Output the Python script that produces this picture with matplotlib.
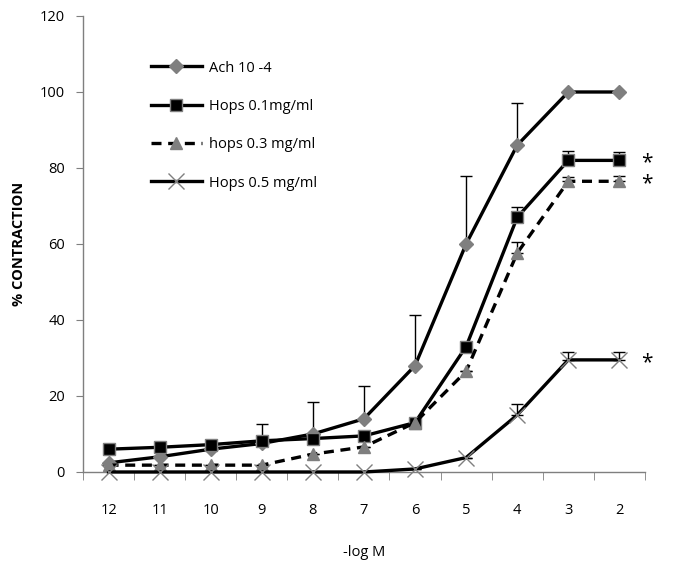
import matplotlib
matplotlib.use("Agg")
import matplotlib.pyplot as plt
import numpy as np

plt.rcParams['font.family'] = ['Open Sans', 'DejaVu Sans']

# -log M categories
doses = ['12', '11', '10', '9', '8', '7', '6', '5', '4', '3', '2']

ach = [2.4, 4, 6, 7.5, 10, 14, 28, 60, 86, 100, 100]
ach_err = [0, 0, 0, 5, 8.4, 8.6, 13.3, 18, 11, 0, 0]

hops01 = [6, 6.5, 7.2, 8.2, 8.8, 9.5, 13, 33, 67, 82, 82]
hops01_err = [0, 0, 0, 0, 0, 0, 0, 0, 2.7, 2.5, 2.2]

hops03 = [1.8, 1.8, 1.8, 1.8, 4.7, 6.6, 13, 26.5, 57.6, 76.5, 76.5]
hops03_err = [0, 0, 0, 0, 0, 0, 0, 0, 3, 1.2, 1.5]

hops05 = [0, 0, 0, 0, 0, 0, 0.8, 3.8, 15, 29.5, 29.5]
hops05_err = [0, 0, 0, 0, 0, 0, 0, 0, 3, 2.2, 2.2]

fig = plt.figure(figsize=(6.76, 5.69), dpi=100)
ax = fig.add_axes([0.1228, 0.1705, 0.8312, 0.8014])
x = np.arange(len(doses))

gray = '#7f7f7f'

def series(y, err, label, marker, ms, mfc, mec, ls, lw=2.4):
    ax.errorbar(x, y, yerr=[np.zeros(len(err)), err], fmt='none',
                ecolor='black', elinewidth=1.0, capsize=4, capthick=1.0, zorder=2)
    ax.plot(x, y, color='black', lw=lw, ls=ls, marker=marker, ms=ms,
            mfc=mfc, mec=mec, mew=1.0, label=label, zorder=3, clip_on=False)

series(ach, ach_err, 'Ach 10 -4', 'D', 7, gray, gray, '-')
series(hops01, hops01_err, 'Hops 0.1mg/ml', 's', 9, 'black', gray, '-')
series(hops03, hops03_err, 'hops 0.3 mg/ml', '^', 9, gray, gray, (0, (3, 2)))
series(hops05, hops05_err, 'Hops 0.5 mg/ml', 'x', 11, gray, gray, '-')

# significance marks
for yy in (hops01[-1], hops03[-1], hops05[-1]):
    ax.annotate('*', xy=(x[-1], yy), xytext=(20, -2), textcoords='offset points',
                fontsize=15, ha='center', va='center', color='black')

ax.set_xlim(-0.5, len(doses) - 0.5)
ax.set_ylim(0, 120)
ax.set_yticks(range(0, 121, 20))
ax.set_xticks(x)
ax.set_xticklabels(doses)
ax.set_xticks(np.arange(-0.5, len(doses), 1), minor=True)
ax.tick_params(axis='x', which='major', length=0, pad=22, labelsize=10.5)
ax.tick_params(axis='x', which='minor', length=6, color=gray, direction='out')
ax.tick_params(axis='y', length=5, color=gray, labelsize=10.5, pad=8)

for s in ('top', 'right'):
    ax.spines[s].set_visible(False)
for s in ('left', 'bottom'):
    ax.spines[s].set_color(gray)
    ax.spines[s].set_linewidth(1.0)

ax.set_xlabel('-log M', fontsize=10.5, labelpad=20)
ax.set_ylabel('% CONTRACTION', fontsize=10.5, fontweight='bold', labelpad=10)

ax.legend(loc='upper left', bbox_to_anchor=(0.11, 0.915), frameon=False,
          fontsize=10.5, handlelength=3.5, handletextpad=0.5,
          labelspacing=1.6, borderaxespad=0)

fig.savefig('out.png', dpi=100)
